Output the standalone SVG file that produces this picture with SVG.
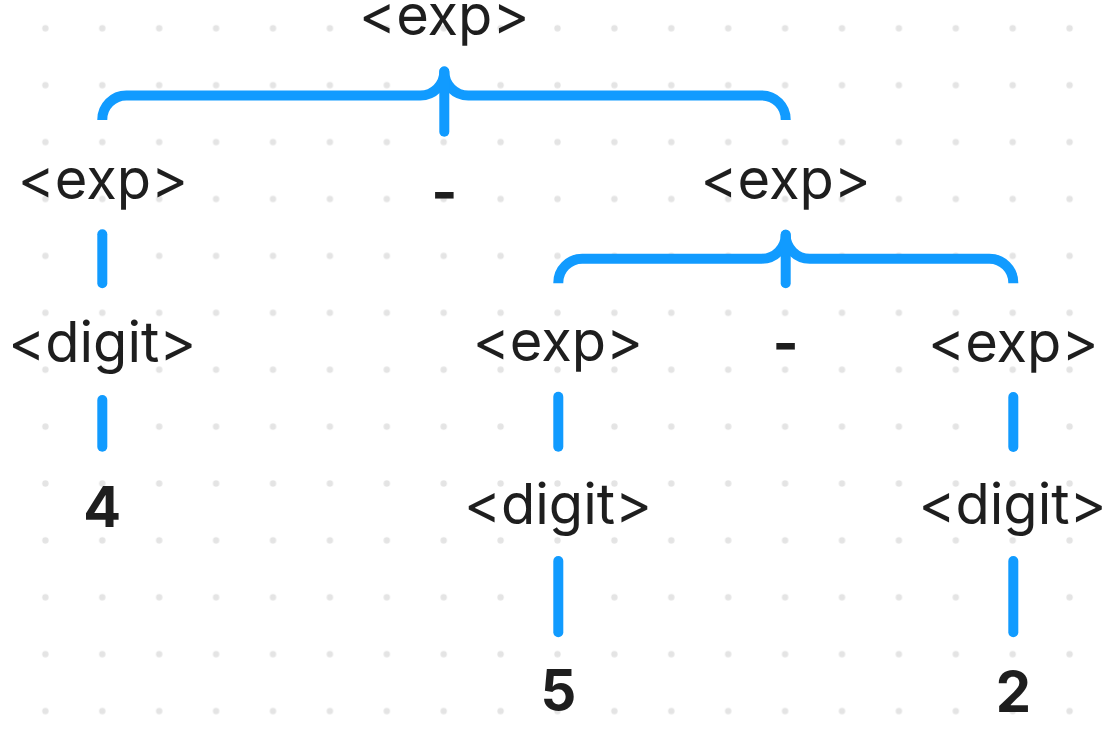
<svg xmlns="http://www.w3.org/2000/svg" width="1116" height="733" viewBox="0 0 1116 733">
  <style>
    .lbl { font-family: Inter, "Noto Sans", "Liberation Sans", sans-serif; font-size: 56px; fill: #1e1e1e; text-anchor: middle; }
    .b { font-weight: 700; }
    .brace { fill: none; stroke: #119bff; stroke-width: 10; stroke-linecap: butt; stroke-linejoin: round; }
    .link { fill: none; stroke: #119bff; stroke-width: 10; stroke-linecap: round; }
  </style>
  <defs>
    <pattern id="dots" patternUnits="userSpaceOnUse" x="16.95" y="-0.15" width="56.9" height="56.9">
      <circle cx="28.45" cy="28.45" r="3.2" fill="#e4e4e4"/>
    </pattern>
  </defs>
  <rect width="1116" height="733" fill="#ffffff"/>
  <rect width="1116" height="733" fill="url(#dots)"/>

  <g id="connectors">
    <path class="brace" d="M102.3,120 V119.5 A24 24 0 0 1 126.3,95.5 H420.3 A24 24 0 0 0 444.3,71.5 A24 24 0 0 0 468.3,95.5 H761.7 A24 24 0 0 1 785.7,119.5 V120"/>
    <line class="link" x1="444.3" y1="71.5" x2="444.3" y2="131.7"/>
    <path class="brace" d="M558.3,283.3 V282.7 A24 24 0 0 1 582.3,258.7 H761.7 A24 24 0 0 0 785.7,234.7 A24 24 0 0 0 809.7,258.7 H989.3 A24 24 0 0 1 1013.3,282.7 V283.3"/>
    <line class="link" x1="785.7" y1="234.7" x2="785.7" y2="283.3"/>
    <line class="link" x1="102.3" y1="234.3" x2="102.3" y2="283.3"/>
    <line class="link" x1="102.3" y1="400" x2="102.3" y2="446.7"/>
    <line class="link" x1="558.3" y1="396.7" x2="558.3" y2="446.7"/>
    <line class="link" x1="558.3" y1="561" x2="558.3" y2="632.3"/>
    <line class="link" x1="1013.3" y1="397" x2="1013.3" y2="447"/>
    <line class="link" x1="1013.3" y1="561" x2="1013.3" y2="632.3"/>
  </g>

  <g id="n-exp-root"><text class="lbl" x="444.3" y="35">&lt;exp&gt;</text></g>
  <g id="n-exp-l"><text class="lbl" x="102.9" y="199">&lt;exp&gt;</text></g>
  <g id="n-minus-1"><text class="lbl b" x="444.3" y="212">-</text></g>
  <g id="n-exp-r"><text class="lbl" x="785.7" y="199">&lt;exp&gt;</text></g>
  <g id="n-digit-l"><text class="lbl" x="102.3" y="361.5">&lt;digit&gt;</text></g>
  <g id="n-exp-rl"><text class="lbl" x="558" y="361">&lt;exp&gt;</text></g>
  <g id="n-minus-2"><text class="lbl b" x="785.7" y="363">-</text></g>
  <g id="n-exp-rr"><text class="lbl" x="1013.3" y="361.5">&lt;exp&gt;</text></g>
  <g id="n-4"><text class="lbl b" x="102.3" y="526.7">4</text></g>
  <g id="n-digit-rl"><text class="lbl" x="558" y="524">&lt;digit&gt;</text></g>
  <g id="n-digit-rr"><text class="lbl" x="1012.5" y="524">&lt;digit&gt;</text></g>
  <g id="n-5"><text class="lbl b" x="558.3" y="710">5</text></g>
  <g id="n-2"><text class="lbl b" x="1013.3" y="711.5">2</text></g>
</svg>
